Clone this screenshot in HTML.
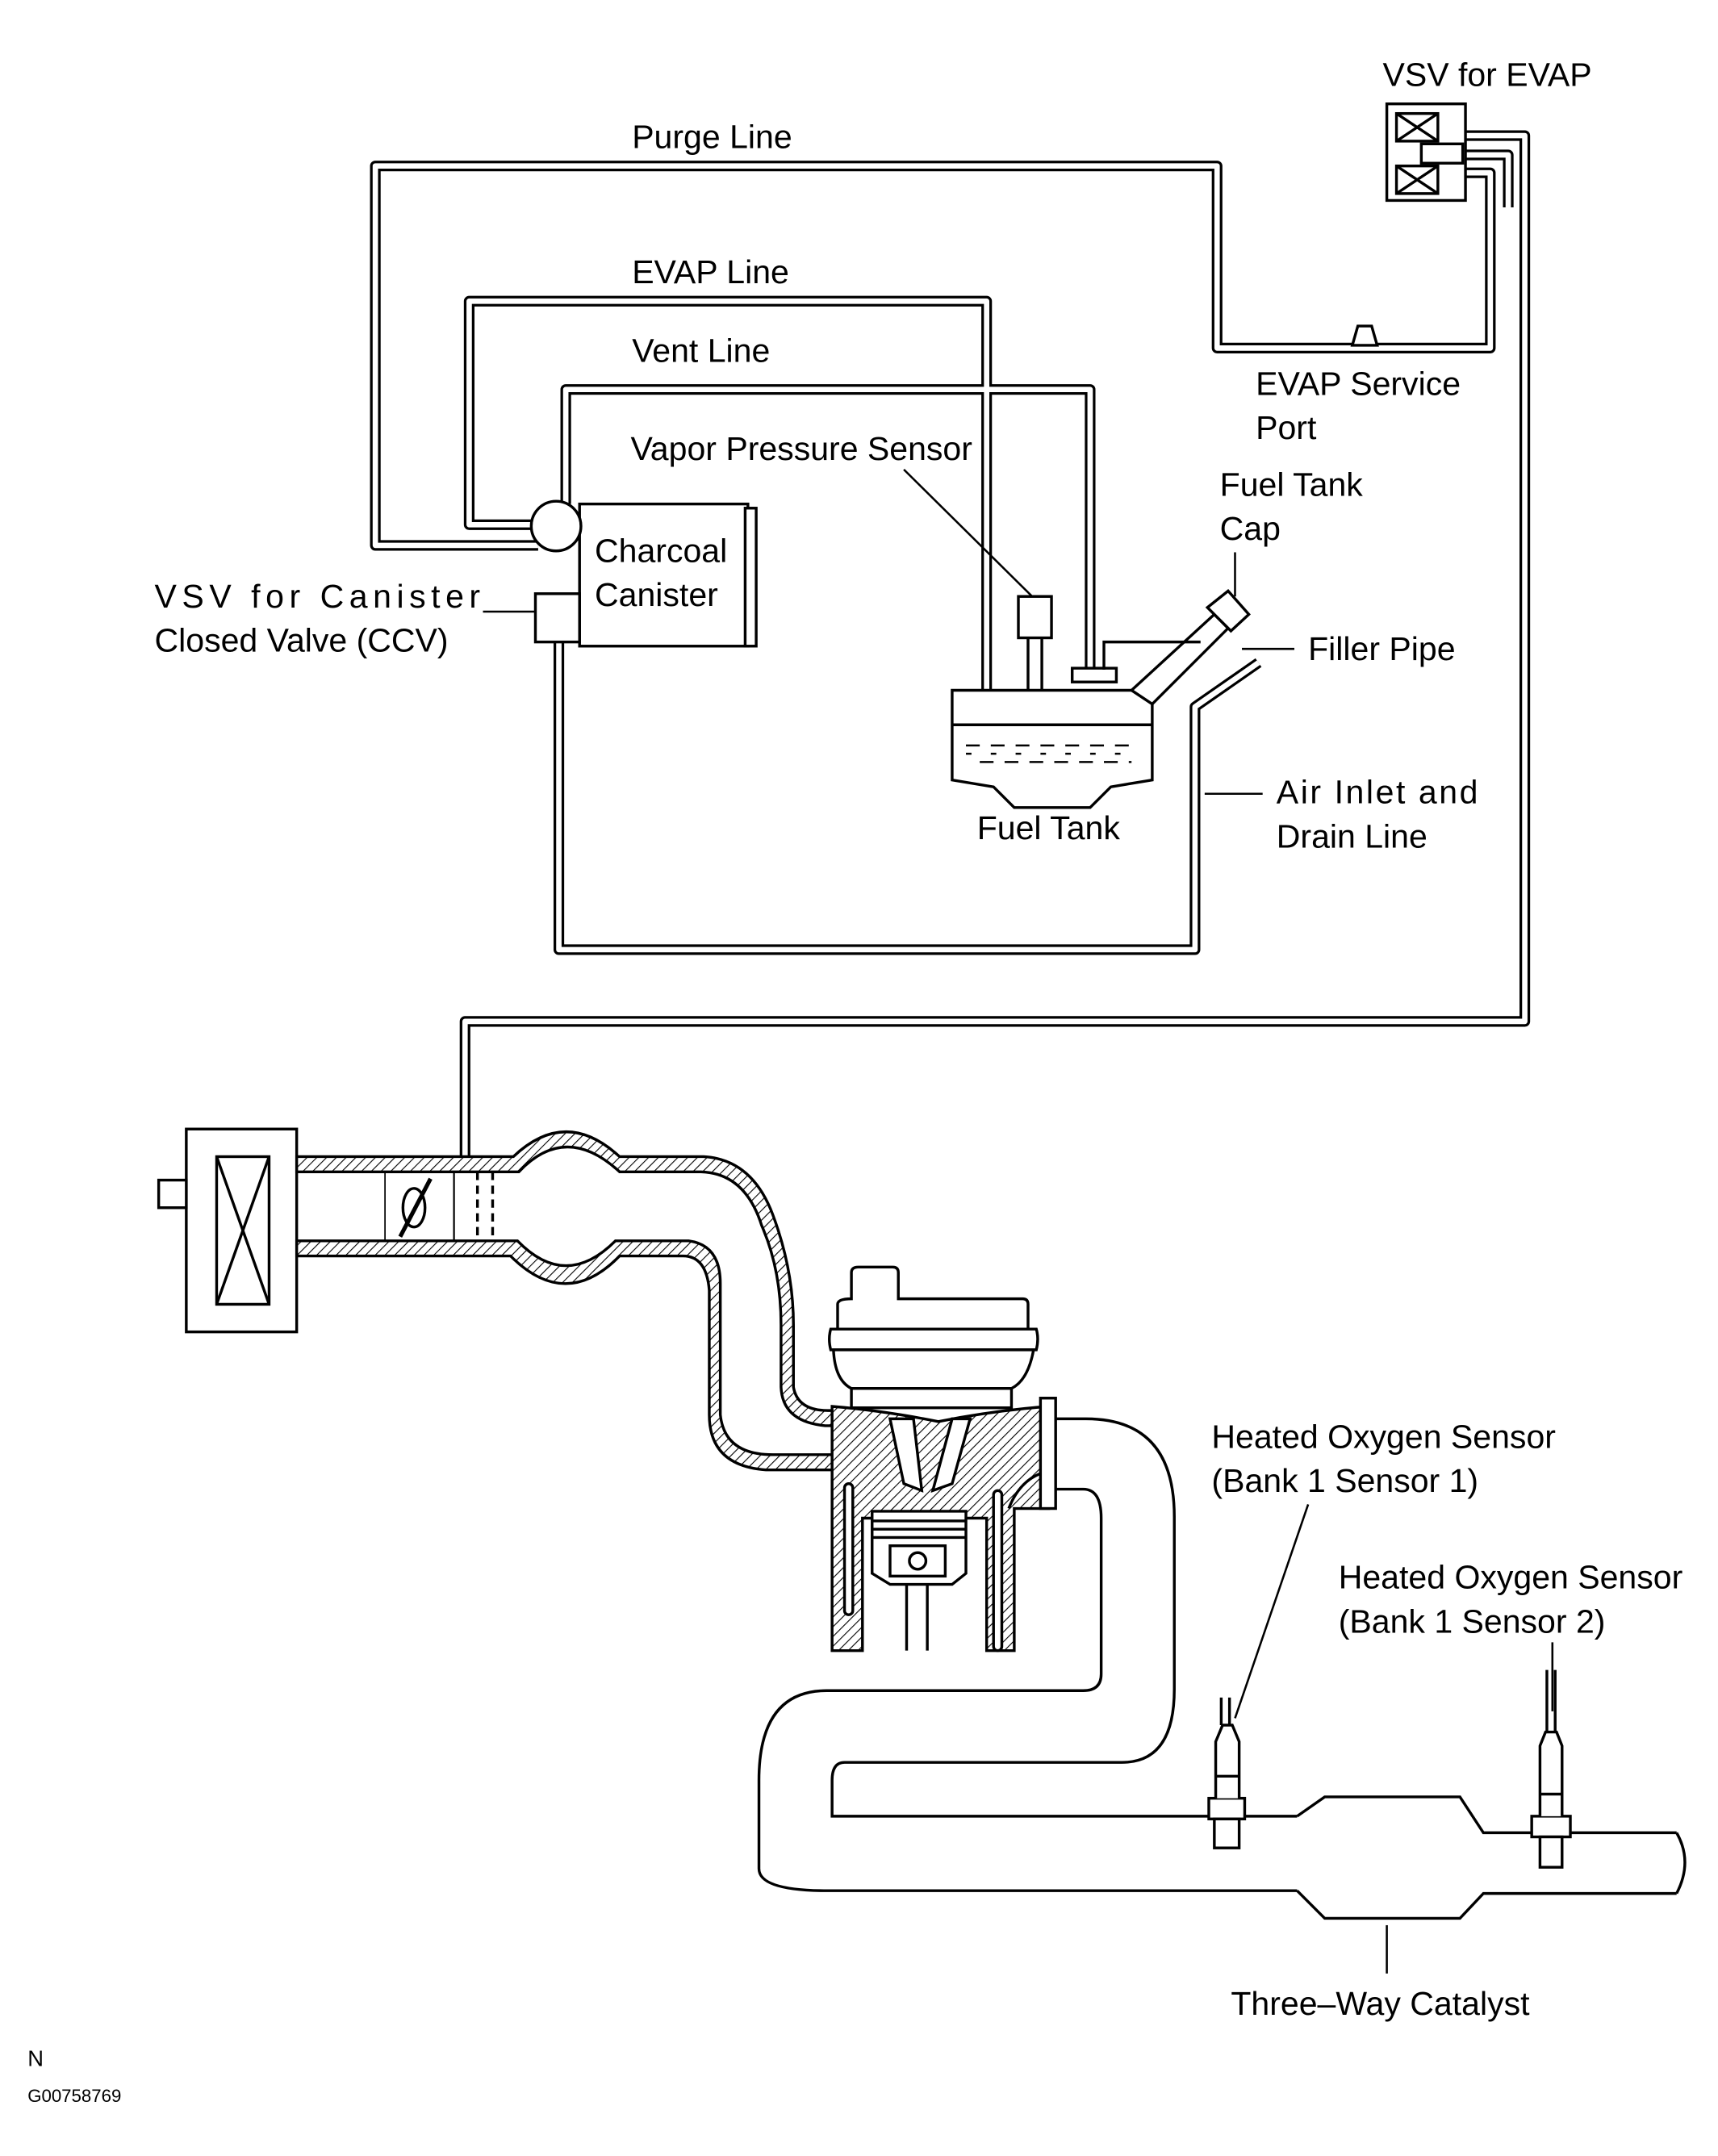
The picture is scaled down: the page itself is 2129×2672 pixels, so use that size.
<!DOCTYPE html>
<html><head><meta charset="utf-8"><style>
html,body{margin:0;padding:0;background:#fff}
svg{display:block}
text{font-family:"Liberation Sans",sans-serif;font-size:24px;fill:#000}
</style></head><body>
<svg width="2129" height="2672" viewBox="0 0 1245 1562" xmlns="http://www.w3.org/2000/svg">
<defs>
<pattern id="h" width="5" height="5" patternUnits="userSpaceOnUse" patternTransform="rotate(45)">
<rect width="5" height="5" fill="#fff"/><line x1="0" y1="0" x2="0" y2="5" stroke="#000" stroke-width="1.3"/></pattern>
</defs>
<g fill="none" stroke-linejoin="round">
<g stroke="#000" stroke-width="7.7">
<path d="M390 395 H272 V120 H882 V252 H1080 V125 H1062"/>
<path d="M388 380 H340 V218 H715 V500"/>
<path d="M410 365 V282 H790 V487"/>
<path d="M405 465 V688 H866 V512 L912 480"/>
<path d="M1062 98 H1105 V740 H337 V842"/>
<path d="M1062 112 H1093 V150"/>
</g>
<g stroke="#fff" stroke-width="3.9">
<path d="M390 395 H272 V120 H882 V252 H1080 V125 H1062"/>
<path d="M388 380 H340 V218 H715 V500"/>
<path d="M410 365 V282 H790 V487"/>
<path d="M405 465 V688 H866 V512 L912 480"/>
<path d="M1062 98 H1105 V740 H337 V842"/>
<path d="M1062 112 H1093 V150"/>
</g>
</g>
<g stroke="#000" stroke-width="2" fill="#fff">
<rect x="1005" y="75" width="57" height="70"/>
<rect x="1012" y="82" width="30" height="20"/>
<line x1="1012" y1="82" x2="1042" y2="102"/><line x1="1042" y1="82" x2="1012" y2="102"/>
<rect x="1012" y="120" width="30" height="20"/>
<line x1="1012" y1="120" x2="1042" y2="140"/><line x1="1042" y1="120" x2="1012" y2="140"/>
<rect x="1030" y="104" width="30" height="14"/>
<path d="M980 250 L984 236 H994 L998 250 Z"/>
<rect x="420" y="365" width="122" height="103"/>
<rect x="540" y="368" width="8" height="100"/>
<circle cx="403" cy="381" r="18"/>
<rect x="388" y="430" width="32" height="35"/>
<rect x="738" y="432" width="24" height="30"/>
<line x1="745" y1="462" x2="745" y2="500"/><line x1="755" y1="462" x2="755" y2="500"/>
<path d="M690 500 H835 V565 L805 570 L790 585 H735 L720 570 L690 565 Z"/>
<rect x="777" y="484" width="32" height="10"/>
<line x1="690" y1="525" x2="835" y2="525"/>
<path d="M820 500 L880 445 L890 455 L835 510 Z" />
<path d="M875 440 L890 428 L905 445 L892 457 Z"/>
<path d="M800 485 V465 H870" fill="none"/>
</g>
<g stroke="#000" stroke-width="1.5" stroke-dasharray="10 8">
<line x1="700" y1="540" x2="825" y2="540"/><line x1="710" y1="552" x2="820" y2="552"/><line x1="700" y1="546" x2="825" y2="546" stroke-dasharray="4 14"/>
</g>
<g stroke="#000" stroke-width="1.5">
<line x1="655" y1="340" x2="748" y2="432"/>
<line x1="895" y1="400" x2="895" y2="432"/>
<line x1="900" y1="470" x2="938" y2="470"/>
<line x1="873" y1="575" x2="915" y2="575"/>
<line x1="350" y1="443" x2="388" y2="443"/>
<line x1="948" y1="1090" x2="895" y2="1245"/>
<line x1="1125" y1="1190" x2="1125" y2="1240"/>
<line x1="1005" y1="1395" x2="1005" y2="1430"/>
</g>
<g stroke="#000" stroke-width="2">
<rect x="135" y="818" width="80" height="147" fill="#fff"/>
<rect x="115" y="855" width="20" height="20" fill="#fff"/>
<rect x="157" y="838" width="38" height="107" fill="#fff"/>
<line x1="157" y1="838" x2="195" y2="945"/><line x1="195" y1="838" x2="157" y2="945"/>
<path d="M215 838 H372 Q410 802 449 838 H510 Q545 840 560 880 Q575 920 575 960 V1005 Q578 1022 600 1022 H616 V1033 H598 Q567 1030 566 1005 V960 Q566 920 552 888 Q540 850 508 849 H449 Q410 813 376 849 H215 Z" fill="url(#h)"/>
<path d="M215 899 H375 Q410 935 446 899 H499 Q522 902 522 930 V1025 Q525 1054 560 1054 H604 V1065 H555 Q514 1062 514 1025 V935 Q512 910 495 910 H449 Q410 950 370 910 H215 Z" fill="url(#h)"/>
<line x1="279" y1="849" x2="279" y2="899" stroke-width="1"/>
<line x1="329" y1="849" x2="329" y2="899" stroke-width="1.3"/>
<ellipse cx="300" cy="875" rx="8" ry="14" fill="none"/><line x1="290" y1="896" x2="312" y2="854" stroke-width="3"/>
<line x1="346" y1="849" x2="346" y2="899" stroke-dasharray="6 4"/>
<line x1="357" y1="849" x2="357" y2="899" stroke-dasharray="6 4"/>
</g>
<g stroke="#000" stroke-width="2">
<path d="M617 941 V922 Q617 918 622 918 H647 Q651 918 651 922 V941 H741 Q745 941 745 945 V963 H607 V945 Q607 941 617 941 Z" fill="#fff"/>
<path d="M602 963 H751 Q753 970 751 978 H602 Q600 970 602 963 Z" fill="#fff"/>
<path d="M604 978 H749 Q745 1000 733 1006 H617 Q605 1000 604 978 Z" fill="#fff"/>
<rect x="617" y="1006" width="116" height="14" fill="#fff"/>
<path d="M603 1019 Q640 1022 680 1030 Q720 1022 760 1019 V1093 H735 V1196 H715 V1100 H625 V1196 H603 Z" fill="url(#h)"/>
<path d="M645 1028 L655 1075 L668 1080 L662 1028 Z M703 1028 L690 1075 L676 1080 L690 1028 Z" fill="#fff"/>
<path d="M731 1093 Q740 1070 760 1066" fill="none"/>
<path d="M632 1095 H700 V1140 L690 1148 H645 L632 1140 Z" fill="#fff"/>
<line x1="632" y1="1102" x2="700" y2="1102"/><line x1="632" y1="1108" x2="700" y2="1108"/><line x1="632" y1="1114" x2="700" y2="1114"/>
<rect x="645" y="1120" width="40" height="22" fill="#fff"/><circle cx="665" cy="1131" r="6" fill="none"/>
<line x1="657" y1="1148" x2="657" y2="1196"/><line x1="672" y1="1148" x2="672" y2="1196"/>
<rect x="612" y="1075" width="6" height="95" rx="3" fill="#fff"/>
<rect x="720" y="1080" width="6" height="116" rx="3" fill="#fff"/>
<rect x="754" y="1013" width="11" height="80" fill="#fff"/>
<path d="M765 1028 H787 Q851 1028 851 1099 V1224 Q851 1277 813 1277 H612 Q603 1277 603 1290 V1316 H940" fill="none"/>
<path d="M765 1079 H785 Q798 1079 798 1100 V1213 Q798 1225 785 1225 H599 Q550 1225 550 1290 V1354 Q550 1370 600 1370 H940" fill="none"/>
<path d="M940 1316 L960 1302 H1058 L1075 1328 H1215 M940 1370 L960 1390 H1058 L1075 1372 H1215" fill="none"/>
<path d="M1215 1328 Q1227 1349 1215 1372" fill="none"/>
<rect x="876" y="1303" width="26" height="15" fill="#fff"/><rect x="880" y="1318" width="18" height="21" fill="#fff"/>
<path d="M881 1303 V1262 L886 1250 H893 L898 1262 V1303" fill="#fff"/>
<line x1="881" y1="1287" x2="898" y2="1287"/>
<line x1="885" y1="1230" x2="885" y2="1250"/><line x1="891" y1="1230" x2="891" y2="1250"/>
<rect x="1110" y="1316" width="28" height="15" fill="#fff"/><rect x="1116" y="1331" width="16" height="22" fill="#fff"/>
<path d="M1116 1316 V1265 L1120 1255 H1128 L1132 1265 V1316" fill="#fff"/>
<line x1="1116" y1="1300" x2="1132" y2="1300"/>
<line x1="1121" y1="1210" x2="1121" y2="1255"/><line x1="1127" y1="1210" x2="1127" y2="1255"/>
</g>
<text x="1002" y="62">VSV for EVAP</text>
<text x="458" y="107">Purge Line</text>
<text x="458" y="205">EVAP Line</text>
<text x="458" y="262">Vent Line</text>
<text x="910" y="286">EVAP Service</text>
<text x="910" y="318">Port</text>
<text x="457" y="333">Vapor Pressure Sensor</text>
<text x="884" y="359">Fuel Tank</text>
<text x="884" y="391">Cap</text>
<text x="431" y="407">Charcoal</text>
<text x="431" y="439">Canister</text>
<text x="112" y="440" textLength="236" lengthAdjust="spacing">VSV for Canister</text>
<text x="112" y="472">Closed Valve (CCV)</text>
<text x="948" y="478">Filler Pipe</text>
<text x="925" y="582" textLength="146" lengthAdjust="spacing">Air Inlet and</text>
<text x="925" y="614">Drain Line</text>
<text x="708" y="608">Fuel Tank</text>
<text x="878" y="1049">Heated Oxygen Sensor</text>
<text x="878" y="1081">(Bank 1 Sensor 1)</text>
<text x="970" y="1151">Heated Oxygen Sensor</text>
<text x="970" y="1183">(Bank 1 Sensor 2)</text>
<text x="892" y="1460">Three–Way Catalyst</text>
<text x="20" y="1497" style="font-size:16px">N</text>
<text x="20" y="1523" style="font-size:13px">G00758769</text>
</svg>
</body></html>
